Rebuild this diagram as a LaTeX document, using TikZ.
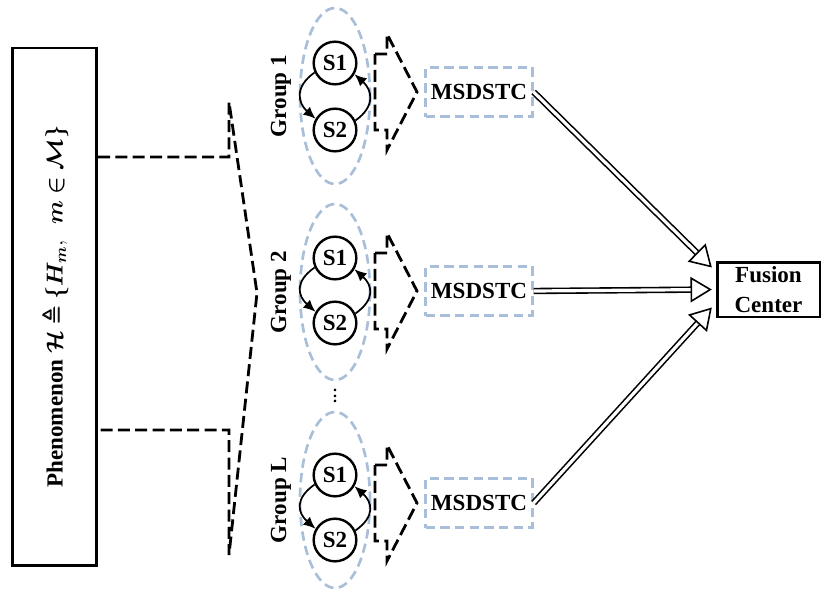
\documentclass[tikz,border=0pt]{standalone}
\usepackage{amsmath,amssymb}
\usepackage{bm}
\usepackage{fontspec}
\setmainfont{Liberation Serif}
\usetikzlibrary{arrows.meta,calc}
\definecolor{groupblue}{HTML}{A9BED8}
\newcommand\phenset{$\bm{\mathcal{H}}\bm{\triangleq}\bm{\{}\bm{H_m},\ \ \bm{m}\bm{\in}\bm{\mathcal{M}}\bm{\}}$}
\begin{document}
\begin{tikzpicture}[x=0.75pt,y=-0.75pt,
  font=\LARGE\bfseries,
  solidbox/.style={draw, line width=2pt, inner sep=0pt},
  statecirc/.style={circle, draw, line width=1.8pt, minimum size=32pt, inner sep=0pt},
  groupoval/.style={draw=groupblue, line width=2pt, dash pattern=on 7pt off 4pt},
  coderbox/.style={draw=groupblue, line width=2pt, dash pattern=on 7pt off 4pt,
    minimum width=80pt, minimum height=37pt, inner sep=0pt},
  flowdash/.style={draw, line width=2.1pt, dash pattern=on 9pt off 4pt, line join=miter},
  cyc/.style={line width=1.3pt, -{Latex[length=9pt,width=8pt]}},
  feed/.style={double, double distance=2.4pt, line width=1.2pt,
    -{Triangle[open, length=16pt, width=19pt, line width=1.2pt]}}]
\useasboundingbox (0,0) rectangle (823,589);

% source of the observations
\node[solidbox, rotate=90, minimum width=388pt, minimum height=63pt] (phen) at (54.5,306.5) {Phenomenon \phenset};

% wide dashed block arrow fanning out to the groups
\draw[flowdash] (98,157) -- (229,157) -- (229,102) -- (257,293) -- (229,555) -- (229,430) -- (98,430);

% sensor groups
\foreach \g/\lab/\ey/\by/\ya/\yb in {1/Group 1/96/92/63/130, 2/Group 2/292/291/258/323, L/Group L/500/503/475/540}{
  \draw[groupoval] (335,\ey) ellipse [x radius=35, y radius=88];
  \node[rotate=90] (lab\g) at (281,\ey) {\lab};
  \node[statecirc] (sa\g) at (335,\ya) {S1};
  \node[statecirc] (sb\g) at (335,\yb) {S2};
  \draw[cyc] (sa\g.205) .. controls +(-20,14) and +(-18,-16) .. (sb\g.150);
  \draw[cyc] (sb\g.25) .. controls +(20,-14) and +(18,16) .. (sa\g.-30);
  \node[coderbox] (m\g) at (479,\by) {MSDSTC};
  \draw[flowdash] (375,\by-38) -- (387,\by-38) -- (387,\by-58) -- (417,\by)
    -- (387,\by+58) -- (387,\by+38) -- (375,\by+38) -- cycle;
}
\node[font=\large\bfseries] (dots) at (335,392) {$\vdots$};

% fusion center and the links into it
\node[solidbox, minimum width=77pt, minimum height=41pt, align=center] (fc) at (768.5,289.5)
  {Fusion\\Center};
\draw[feed] (m1.east) -- ($(fc.west)+(-4,-22)$);
\draw[feed] (m2.east) -- ($(fc.west)+(-4,0)$);
\draw[feed] (mL.east) -- ($(fc.west)+(-4,18)$);
\end{tikzpicture}
\end{document}
